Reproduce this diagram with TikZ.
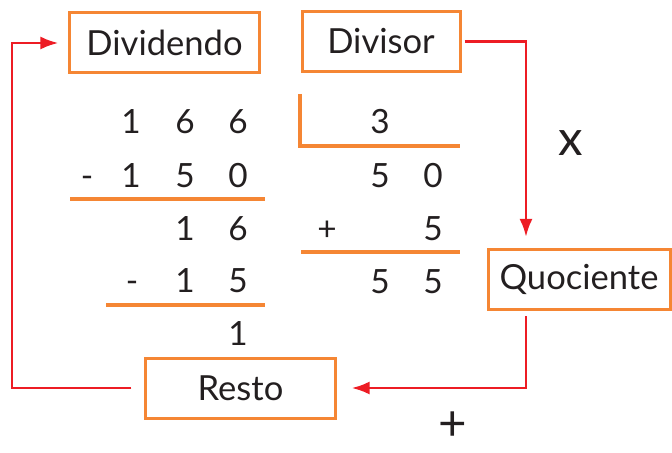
\documentclass[tikz,border=0pt]{standalone}
\usepackage{fontspec}
\setmainfont{Lato}
\usetikzlibrary{positioning,arrows.meta,calc}
\definecolor{dvorange}{RGB}{245,134,52}
\definecolor{dvred}{RGB}{237,28,36}
\definecolor{dvtext}{RGB}{35,31,32}
\tikzset{
  box/.style={draw=dvorange, line width=0.09cm, text=dvtext, minimum height=1.8cm, inner sep=0pt, font=\fontsize{29.5}{34}\selectfont},
  digit/.style={text=dvtext, inner sep=0pt, anchor=base, font=\fontsize{28.5}{32}\selectfont},
  sign/.style={text=dvtext, inner sep=0pt, font=\fontsize{42}{46}\selectfont},
  rule/.style={dvorange, line width=0.12cm},
  arrow/.style={-{Latex[length=0.54cm, width=0.39cm]}, dvred, line width=0.085cm}
}

\begin{document}
\begin{tikzpicture}[x=0.03cm, y=-0.03cm]
    \useasboundingbox (0,0) rectangle (672,453);
    \node[box, minimum width=5.67cm] (dividendo) at (164.5,43) {Dividendo};
    \node[box, minimum width=4.74cm] (divisor) at (381,41.5) {Divisor};
    \node[box, minimum width=5.46cm] (quociente) at (579,279.5) {Quociente};
    \node[box, minimum width=5.67cm] (resto) at (240.5,388) {Resto};
    % dividendo side
    \foreach \x/\y/\t/\n in {131/134/1/a1, 185/134/6/a2, 238/134/6/a3,
        87/187/-/b0, 131/187/1/b1, 185/187/5/b2, 238/187/0/b3,
        185/240/1/c2, 238/240/6/c3,
        132/292/-/d1, 185/292/1/d2, 238/292/5/d3,
        238/345/1/e3}
      {\node[digit] (\n) at (\x,\y) {\t};}
    % divisor side
    \foreach \x/\y/\t/\n in {380/134/3/q1, 380/187/5/p1, 433/187/0/p2,
        327/240/+/s0, 433/240/5/s2, 380/293/5/r1, 433/293/5/r2}
      {\node[digit] (\n) at (\x,\y) {\t};}
    \draw[rule] (70,199) -- (265,199);
    \draw[rule] (106,305) -- (265,305);
    \draw[rule] (300,94) -- (300,146) -- (460,146);
    \draw[rule] (301,252) -- (460,252);
    \node[sign] (times) at (571,143) {x};
    \node[sign] (plus) at (453,426) {+};
    % arrows
    \coordinate (lc) at (12,388);
    \coordinate (rc) at (526,41.5);
    \draw[arrow, shorten <=0.39cm, shorten >=0.3cm] (resto.west) -- (lc) |- (dividendo.west);
    \draw[arrow, shorten <=0.09cm, shorten >=0.33cm] (divisor.east) -- (rc) -- (rc |- quociente.north);
    \draw[arrow, shorten <=0.15cm, shorten >=0.45cm] (rc |- quociente.south) |- (resto.east);
  \end{tikzpicture}
\end{document}
